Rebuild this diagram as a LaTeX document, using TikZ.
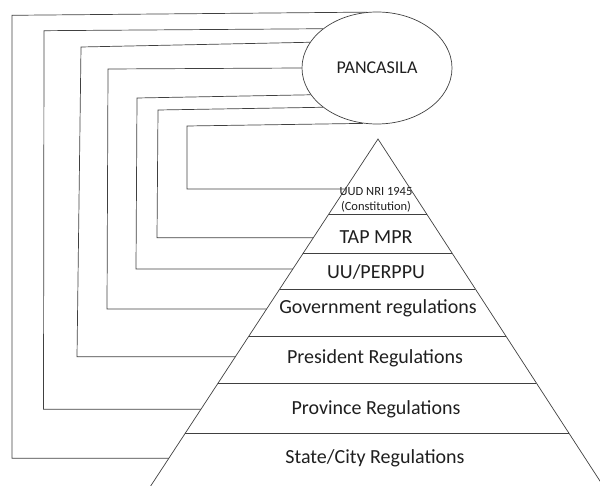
\documentclass[tikz,border=0pt]{standalone}
\usepackage{fontspec}
\setmainfont{Carlito}
\usetikzlibrary{shapes.geometric}
\tikzset{
  link/.style={draw=black!75, line width=0.7pt},
  levellabel/.style={inner sep=0pt, text=black!88, font=\fontsize{20pt}{24pt}\selectfont},
  toplabel/.style={inner sep=0pt, text=black!88, align=center, font=\fontsize{12.5pt}{15pt}\selectfont},
}
\begin{document}
\begin{tikzpicture}[x=1pt, y=-1pt]%
\useasboundingbox (0,0) rectangle (600,486);%
% source of all law
\node[link, ellipse, minimum width=150pt, minimum height=112pt, inner sep=0pt, text=black!88, font=\fontsize{18pt}{18pt}\selectfont] (pancasila) at (377,68) {PANCASILA};%
% pyramid
\coordinate (apex) at (378,139);%
\begin{scope}
\clip (0,0) rectangle (600,486);%
\draw[link] (141.5,500) -- (apex) -- (612.3,500);%
\end{scope}
\draw[link] (328.9,214) -- (426.7,214);%
\draw[link] (303.3,253) -- (452.0,253);%
\draw[link] (279.8,289) -- (475.4,289);%
\draw[link] (249.0,336) -- (505.9,336);%
\draw[link] (218.2,383) -- (536.4,383);%
\draw[link] (185.4,433) -- (568.8,433);%
% levels
\node[toplabel] (uud) at (376,199.5) {UUD NRI 1945\\(Constitution)};%
\node[levellabel] (tap) at (376,237) {TAP MPR};%
\node[levellabel] (uu) at (376,272) {UU/PERPPU};%
\node[levellabel] (gov) at (378,308) {Government regulations};%
\node[levellabel] (pres) at (375,358) {President Regulations};%
\node[levellabel] (prov) at (376,409) {Province Regulations};%
\node[levellabel] (city) at (375,458) {State/City Regulations};%
% ends of the links on the left side of the pyramid
\coordinate (touud) at (345.3,189);%
\coordinate (totap) at (313.4,237.7);%
\coordinate (touu) at (292.9,269);%
\coordinate (togov) at (266.6,309);%
\coordinate (topres) at (235.4,356.7);%
\coordinate (toprov) at (200.9,409.3);%
\coordinate (tocity) at (168.9,458.3);%
% links
\draw[link] (pancasila.100) -- (12,15.3) -- (12,458.3) -- (tocity);%
\draw[link] (pancasila.144) -- (44,30.7) -- (43.5,409.3) -- (toprov);%
\draw[link] (pancasila.159.5) -- (81,47) -- (77,356.7) -- (topres);%
\draw[link] (pancasila.180) -- (108,69) -- (107,309) -- (togov);%
\draw[link] (pancasila.202.7) -- (137,98) -- (136,269) -- (touu);%
\draw[link] (pancasila.216.5) -- (158,110) -- (157,237.7) -- (totap);%
\draw[link] (pancasila.256) -- (187,126) -- (187,189) -- (touud);%
\end{tikzpicture}
\end{document}
